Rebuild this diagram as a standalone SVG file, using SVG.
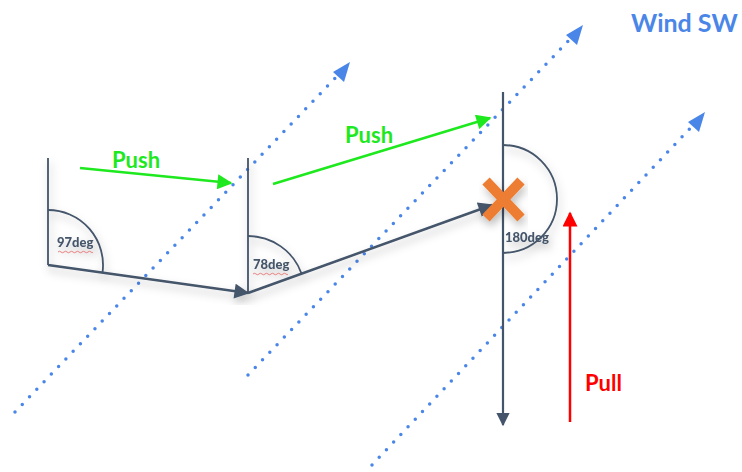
<svg xmlns="http://www.w3.org/2000/svg" width="742" height="472" viewBox="0 0 742 472">
  <style>
    .wind { stroke: #4a86e8; stroke-width: 3.5; stroke-linecap: round; stroke-dasharray: 0 10.5; fill: none; }
    .edge { stroke: #44546a; stroke-width: 2.5; fill: none; }
    .thin { stroke: #44546a; stroke-width: 1.8; fill: none; }
    .arc { stroke: #44546a; stroke-width: 1.8; fill: none; }
    .push { stroke: #1ee81e; stroke-width: 2.5; fill: none; }
    .pull { stroke: #ff0000; stroke-width: 2.5; fill: none; }
    .lbl { font-family: Lato, "Open Sans", sans-serif; font-weight: bold; }
    .deg { font-family: Lato, "Open Sans", sans-serif; font-weight: 900; font-size: 13px; fill: #44546a; }
    .squig { stroke: #e06060; stroke-width: 0.8; fill: none; }
  </style>
  <defs>
    <marker id="mDark" viewBox="0 0 10 10" refX="9" refY="5" markerWidth="7" markerHeight="6" orient="auto" markerUnits="strokeWidth">
      <path d="M0,0 L10,5 L0,10 Z" fill="#44546a"/>
    </marker>
    <marker id="mGreen" viewBox="0 0 10 10" refX="9" refY="5" markerWidth="7" markerHeight="6" orient="auto" markerUnits="strokeWidth">
      <path d="M0,0 L10,5 L0,10 Z" fill="#1ee81e"/>
    </marker>
    <marker id="mRed" viewBox="0 0 10 10" refX="9" refY="5" markerWidth="7" markerHeight="6" orient="auto" markerUnits="strokeWidth">
      <path d="M0,0 L10,5 L0,10 Z" fill="#ff0000"/>
    </marker>
    <filter id="shadow" x="-20%" y="-20%" width="140%" height="160%">
      <feDropShadow dx="2" dy="5" stdDeviation="4" flood-color="#000" flood-opacity="0.25"/>
    </filter>
  </defs>

  <!-- wind lines -->
  <g id="wind">
    <line class="wind" x1="15" y1="412" x2="342" y2="71"/>
    <path d="M350,62 L333,72 L344,82 Z" fill="#4a86e8"/>
    <line class="wind" x1="248" y1="375" x2="575" y2="34"/>
    <path d="M583,25 L566,35 L577,45 Z" fill="#4a86e8"/>
    <line class="wind" x1="372" y1="465" x2="697" y2="121"/>
    <path d="M705,112 L688,122 L699,132 Z" fill="#4a86e8"/>
  </g>

  <!-- stop 1 -->
  <g id="stop1" filter="url(#shadow)">
    <line class="thin" x1="48" y1="158" x2="48" y2="265"/>
    <path class="arc" d="M48,210 A55,55 0 0 1 102.5,272.6"/>
    <text class="deg" x="57" y="247">97deg</text>
    <path class="squig" d="M58,252 q1.5,-1.5 3,0 t3,0 t3,0 t3,0 t3,0 t3,0 t3,0 t3,0 t3,0 t3,0 t3,0 t2,0"/>
  </g>

  <!-- stop 2 -->
  <g id="stop2" filter="url(#shadow)">
    <line class="thin" x1="248" y1="158" x2="248" y2="293"/>
    <path class="arc" d="M248,236 A57,57 0 0 1 301.6,273.7"/>
    <text class="deg" x="253" y="269">78deg</text>
    <path class="squig" d="M253,274 q1.5,-1.5 3,0 t3,0 t3,0 t3,0 t3,0 t3,0 t3,0 t3,0 t3,0 t3,0 t3,0 t2,0"/>
  </g>

  <!-- stop 3 -->
  <g id="stop3" filter="url(#shadow)">
    <path class="arc" d="M503,145 A54,54 0 0 1 503,253"/>
    <text class="deg" x="505" y="242">180deg</text>
  </g>

  <!-- connectors -->
  <g id="connectors">
    <line class="edge" x1="48" y1="265" x2="248" y2="293" marker-end="url(#mDark)" filter="url(#shadow)"/>
    <line class="edge" x1="248" y1="293" x2="492" y2="205" marker-end="url(#mDark)" filter="url(#shadow)"/>
    <line class="thin" x1="503" y1="92" x2="503" y2="425" marker-end="url(#mDark)" style="stroke-width:2.2"/>
    <line class="push" x1="80" y1="168" x2="231" y2="183" marker-end="url(#mGreen)"/>
    <line class="push" x1="273" y1="184" x2="490" y2="118" marker-end="url(#mGreen)"/>
    <line class="pull" x1="570" y1="422" x2="570" y2="213" marker-end="url(#mRed)"/>
  </g>

  <!-- blocked marker -->
  <g id="blocked" filter="url(#shadow)">
    <path d="M486,181 L521,218 M521,181 L486,218" stroke="#ed7d31" stroke-width="10" fill="none"/>
  </g>

  <!-- labels -->
  <g id="labels">
    <text class="lbl" x="112" y="168" font-size="22" fill="#1ee81e">Push</text>
    <text class="lbl" x="345" y="143" font-size="22" fill="#1ee81e">Push</text>
    <text class="lbl" x="585" y="391" font-size="22" fill="#ff0000">Pull</text>
    <text class="lbl" x="631" y="32" font-size="25" fill="#4a86e8">Wind SW</text>
  </g>
</svg>
